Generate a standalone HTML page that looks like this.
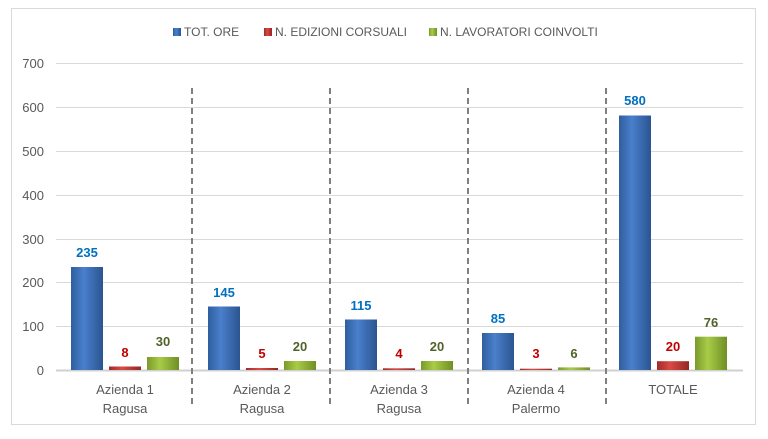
<!DOCTYPE html><html><head><style>body{margin:0;background:#fff}svg{font-family:"Liberation Sans",sans-serif}</style></head><body>
<svg width="768" height="434" viewBox="0 0 768 434">
<defs>
<linearGradient id="b" x1="0" x2="1"><stop offset="0" stop-color="#2f5e9e"/><stop offset=".4" stop-color="#4a7fcc"/><stop offset="1" stop-color="#2a5590"/></linearGradient>
<linearGradient id="r" x1="0" x2="1"><stop offset="0" stop-color="#a02a28"/><stop offset=".4" stop-color="#d94a47"/><stop offset="1" stop-color="#952624"/></linearGradient>
<linearGradient id="g" x1="0" x2="1"><stop offset="0" stop-color="#7a9a2a"/><stop offset=".4" stop-color="#a8cc48"/><stop offset="1" stop-color="#6f8f24"/></linearGradient>
</defs>
<rect x="11.5" y="8.5" width="744" height="416" fill="#fff" stroke="#d9d9d9"/>
<g stroke="#d9d9d9" stroke-width="1">
<line x1="56" x2="743" y1="63.5" y2="63.5"/><line x1="56" x2="743" y1="107.5" y2="107.5"/><line x1="56" x2="743" y1="151.5" y2="151.5"/><line x1="56" x2="743" y1="195.5" y2="195.5"/><line x1="56" x2="743" y1="239.5" y2="239.5"/><line x1="56" x2="743" y1="282.5" y2="282.5"/><line x1="56" x2="743" y1="326.5" y2="326.5"/>
</g>
<line x1="56" x2="743" y1="370.5" y2="370.5" stroke="#d0d0d0" stroke-width="2"/>
<g font-size="13" fill="#595959" text-anchor="end">
<text x="44" y="68">700</text><text x="44" y="112">600</text><text x="44" y="156">500</text><text x="44" y="200">400</text><text x="44" y="244">300</text><text x="44" y="287">200</text><text x="44" y="331">100</text><text x="44" y="375">0</text>
</g>
<g stroke="#7f7f7f" stroke-width="2" stroke-dasharray="6,4">
<line x1="192" x2="192" y1="88" y2="408"/><line x1="330" x2="330" y1="88" y2="408"/><line x1="468" x2="468" y1="88" y2="408"/><line x1="606" x2="606" y1="88" y2="408"/>
</g>
<g id="bars"></g>
<g font-size="13" font-weight="bold" text-anchor="middle">
<!-- group 1 -->
<rect x="71" y="267" width="32" height="103" fill="url(#b)"/><text x="87" y="257" fill="#0070c0">235</text>
<rect x="109" y="366.5" width="32" height="3.5" fill="url(#r)"/><text x="125" y="357" fill="#c00000">8</text>
<rect x="147" y="357" width="32" height="13" fill="url(#g)"/><text x="163" y="346" fill="#4f6228">30</text>
<!-- group 2 -->
<rect x="208" y="306.5" width="32" height="63.5" fill="url(#b)"/><text x="224" y="297" fill="#0070c0">145</text>
<rect x="246" y="368" width="32" height="2" fill="url(#r)"/><text x="262" y="358" fill="#c00000">5</text>
<rect x="284" y="361" width="32" height="9" fill="url(#g)"/><text x="300" y="351" fill="#4f6228">20</text>
<!-- group 3 -->
<rect x="345" y="319.5" width="32" height="50.5" fill="url(#b)"/><text x="361" y="310" fill="#0070c0">115</text>
<rect x="383" y="368.3" width="32" height="1.7" fill="url(#r)"/><text x="399" y="358" fill="#c00000">4</text>
<rect x="421" y="361" width="32" height="9" fill="url(#g)"/><text x="437" y="351" fill="#4f6228">20</text>
<!-- group 4 -->
<rect x="482" y="333" width="32" height="37" fill="url(#b)"/><text x="498" y="323" fill="#0070c0">85</text>
<rect x="520" y="368.7" width="32" height="1.3" fill="url(#r)"/><text x="536" y="358" fill="#c00000">3</text>
<rect x="558" y="367.4" width="32" height="2.6" fill="url(#g)"/><text x="574" y="358" fill="#4f6228">6</text>
<!-- group 5 -->
<rect x="619" y="115.5" width="32" height="254.5" fill="url(#b)"/><text x="635" y="105" fill="#0070c0">580</text>
<rect x="657" y="361.2" width="32" height="8.8" fill="url(#r)"/><text x="673" y="351" fill="#c00000">20</text>
<rect x="695" y="336.7" width="32" height="33.3" fill="url(#g)"/><text x="711" y="327" fill="#4f6228">76</text>
</g>
<g font-size="13" fill="#595959" text-anchor="middle">
<text x="125" y="394">Azienda 1</text><text x="125" y="413">Ragusa</text>
<text x="262" y="394">Azienda 2</text><text x="262" y="413">Ragusa</text>
<text x="399" y="394">Azienda 3</text><text x="399" y="413">Ragusa</text>
<text x="536" y="394">Azienda 4</text><text x="536" y="413">Palermo</text>
<text x="673" y="394">TOTALE</text>
</g>
<g font-size="12" fill="#595959">
<rect x="173" y="28" width="8" height="8" fill="url(#b)"/><text x="184" y="36">TOT. ORE</text>
<rect x="264" y="28" width="8" height="8" fill="url(#r)"/><text x="275" y="36">N. EDIZIONI CORSUALI</text>
<rect x="429" y="28" width="8" height="8" fill="url(#g)"/><text x="440" y="36">N. LAVORATORI COINVOLTI</text>
</g>
</svg></body></html>
